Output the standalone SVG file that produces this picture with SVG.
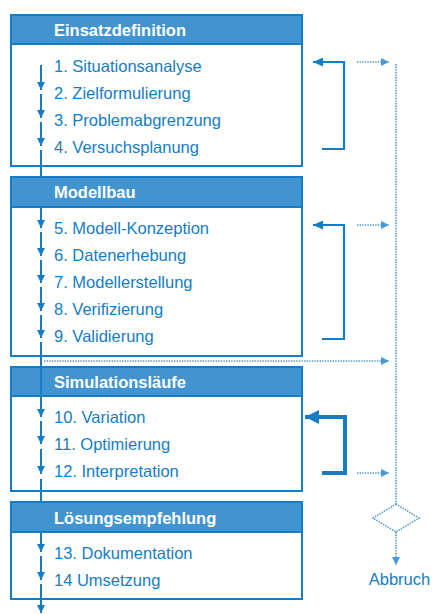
<svg xmlns="http://www.w3.org/2000/svg" width="434" height="614" viewBox="0 0 434 614">
<defs>
<style>
.box{fill:#ffffff;stroke:#157dc5;stroke-width:2}
.hdr{fill:#4294d0;stroke:#157dc5;stroke-width:2}
.ht{font-family:"Liberation Sans",Arial,sans-serif;font-weight:bold;font-size:16.5px;fill:#ffffff}
.it{font-family:"Liberation Sans",Arial,sans-serif;font-size:16.5px;fill:#157dc5}
.flow{stroke:#157dc5;stroke-width:2;fill:none}
.fb{stroke:#157dc5;stroke-width:2.2;fill:none}
.fbt{stroke:#157dc5;stroke-width:4;fill:none}
.dot{stroke:#4d98d3;stroke-width:1.6;stroke-dasharray:1.4 1.2;fill:none}
</style>
<marker id="ah" viewBox="0 0 8 8" refX="8" refY="4" markerWidth="8" markerHeight="8" markerUnits="userSpaceOnUse" orient="auto"><path d="M0,0 L8,4 L0,8 z" fill="#157dc5"/></marker>
<marker id="ahb" viewBox="0 0 10 9" refX="10" refY="4.5" markerWidth="10" markerHeight="9" markerUnits="userSpaceOnUse" orient="auto"><path d="M0,0 L10,4.5 L0,9 z" fill="#157dc5"/></marker>
<marker id="ahd" viewBox="0 0 8 8" refX="8" refY="4" markerWidth="8" markerHeight="8" markerUnits="userSpaceOnUse" orient="auto"><path d="M0,0 L8,4 L0,8 z" fill="#4d98d3"/></marker>
</defs>
<rect width="434" height="614" fill="#ffffff"/>

<g id="einsatzdefinition">
<rect class="box" x="11" y="15" width="291" height="151"/>
<rect class="hdr" x="11" y="15" width="291" height="29"/>
<text class="ht" x="54" y="35.5">Einsatzdefinition</text>
<text class="it" x="54" y="72">1. Situationsanalyse</text>
<text class="it" x="54" y="98.5">2. Zielformulierung</text>
<text class="it" x="54" y="125.5">3. Problemabgrenzung</text>
<text class="it" x="54" y="152.5">4. Versuchsplanung</text>
</g>

<g id="modellbau">
<rect class="box" x="11" y="177" width="291" height="179"/>
<rect class="hdr" x="11" y="177" width="291" height="30"/>
<text class="ht" x="54" y="198">Modellbau</text>
<text class="it" x="54" y="234">5. Modell-Konzeption</text>
<text class="it" x="54" y="261">6. Datenerhebung</text>
<text class="it" x="54" y="288">7. Modellerstellung</text>
<text class="it" x="54" y="315">8. Verifizierung</text>
<text class="it" x="54" y="342">9. Validierung</text>
</g>

<g id="simulationslaeufe">
<rect class="box" x="11" y="367" width="291" height="124"/>
<rect class="hdr" x="11" y="367" width="291" height="29"/>
<text class="ht" x="54" y="388">Simulationsläufe</text>
<text class="it" x="54" y="423">10. Variation</text>
<text class="it" x="54" y="450">11. Optimierung</text>
<text class="it" x="54" y="477">12. Interpretation</text>
</g>

<g id="loesungsempfehlung">
<rect class="box" x="11" y="502" width="291" height="97"/>
<rect class="hdr" x="11" y="502" width="291" height="30"/>
<text class="ht" x="54" y="523.5">Lösungsempfehlung</text>
<text class="it" x="54" y="558.5">13. Dokumentation</text>
<text class="it" x="54" y="586">14 Umsetzung</text>
</g>

<g id="abbruch">
<polygon class="dot" points="396,504 419,518 396,532 373,518"/>
<text class="it" x="399.5" y="585" text-anchor="middle">Abbruch</text>
</g>

<g id="connectors">
<line class="flow" x1="41" y1="65" x2="41" y2="90" marker-end="url(#ah)"/>
<line class="flow" x1="41" y1="94" x2="41" y2="118" marker-end="url(#ah)"/>
<line class="flow" x1="41" y1="122" x2="41" y2="146" marker-end="url(#ah)"/>
<line class="flow" x1="41" y1="150" x2="41" y2="176"/>
<line class="flow" x1="41" y1="208" x2="41" y2="228" marker-end="url(#ah)"/>
<line class="flow" x1="41" y1="232" x2="41" y2="256" marker-end="url(#ah)"/>
<line class="flow" x1="41" y1="260" x2="41" y2="283" marker-end="url(#ah)"/>
<line class="flow" x1="41" y1="287" x2="41" y2="311" marker-end="url(#ah)"/>
<line class="flow" x1="41" y1="315" x2="41" y2="338" marker-end="url(#ah)"/>
<line class="flow" x1="41" y1="342" x2="41" y2="417" marker-end="url(#ah)"/>
<line class="flow" x1="41" y1="421" x2="41" y2="444" marker-end="url(#ah)"/>
<line class="flow" x1="41" y1="449" x2="41" y2="474" marker-end="url(#ah)"/>
<line class="flow" x1="41" y1="479" x2="41" y2="501"/>
<line class="flow" x1="41" y1="533" x2="41" y2="552" marker-end="url(#ah)"/>
<line class="flow" x1="41" y1="556" x2="41" y2="580" marker-end="url(#ah)"/>
<line class="flow" x1="41" y1="584" x2="41" y2="613" marker-end="url(#ah)"/>

<polyline class="fb" points="322,149 344,149 344,62 313,62" marker-end="url(#ahb)"/>
<polyline class="fb" points="322,339 344,339 344,225 313,225" marker-end="url(#ahb)"/>
<polyline class="fbt" points="322,473 345,473 345,417 305,417"/>
<polygon points="305,417 319,410 319,424" fill="#157dc5"/>

<line class="dot" x1="357" y1="62" x2="389" y2="62" marker-end="url(#ahd)"/>
<line class="dot" x1="357" y1="225" x2="389" y2="225" marker-end="url(#ahd)"/>
<line class="dot" x1="357" y1="473" x2="389" y2="473" marker-end="url(#ahd)"/>
<line class="dot" x1="44" y1="361" x2="389" y2="361" marker-end="url(#ahd)"/>
<line class="dot" x1="396" y1="64" x2="396" y2="504"/>
<line class="dot" x1="396" y1="532" x2="396" y2="565" marker-end="url(#ahd)"/>
</g>
</svg>
